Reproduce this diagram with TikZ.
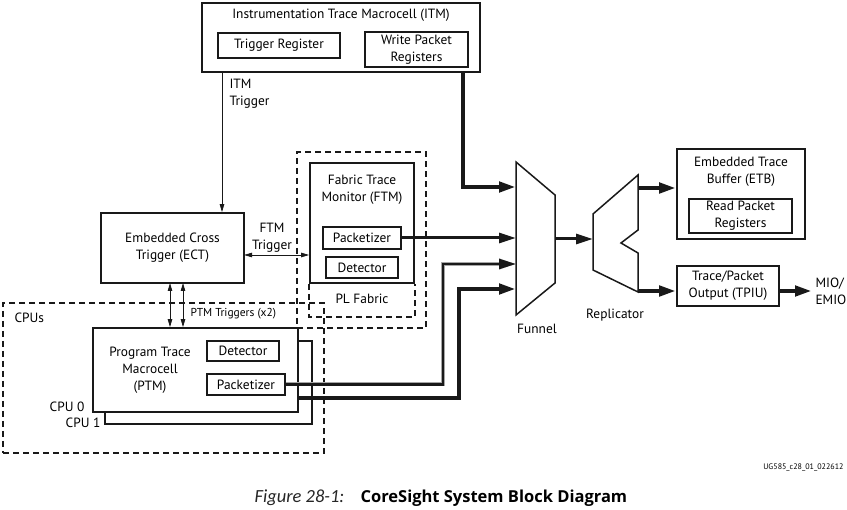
\documentclass[tikz,border=0pt]{standalone}
\usepackage{fontspec}
\setmainfont{PT Sans}
\newfontfamily\figfont{Carlito}
\newfontfamily\titlefont{Open Sans}
\usetikzlibrary{arrows.meta,positioning,calc}

\begin{document}
\begin{tikzpicture}
[
    x=1pt, y=-1pt,
    font=\fontsize{13.4}{17}\selectfont,
]

\tikzstyle{blk}=[rectangle, draw=black!90, line width=1.7pt, fill=white, inner sep=0pt, align=center]
\tikzstyle{sub}=[rectangle, draw=black!90, line width=1.6pt, inner sep=0pt, align=center]
\tikzstyle{zone}=[draw=black!90, line width=1.5pt, dash pattern=on 6pt off 4pt]
\tikzstyle{trig}=[draw=black!90, line width=0.8pt, -{Triangle[length=8pt,width=4.5pt]}]
\tikzstyle{dtrig}=[trig, {Triangle[length=8pt,width=4.5pt]}-{Triangle[length=8pt,width=4.5pt]}]
\tikzstyle{bus}=[draw=black!90, line width=4.4pt, -{Triangle[length=17pt,width=10pt]}]
\tikzstyle{midbus}=[bus, line width=3pt]
\tikzstyle{gbus}=[draw=black!90, line width=2.2pt, -{Triangle[length=17pt,width=10pt]},
    preaction={draw=black!35, line width=4pt}]
\tikzstyle{unit}=[draw=black!90, line width=1.5pt, line join=miter]

\useasboundingbox (0,0) rectangle (847,510);

% dashed zones
\node[zone, minimum width=129pt, minimum height=176pt] (plzone) at (361.5,240) {};
\node[zone, minimum width=321pt, minimum height=150pt] (cpus) at (163.5,378) {};
\node[anchor=west] (cpuslbl) at (11,318) {CPUs};

% CPUs
\node[blk, minimum width=207pt, minimum height=83pt] (cpu1) at (208.5,382.5) {};
\node[blk, minimum width=205pt, minimum height=84pt] (ptm) at (195.5,370) {};
\node[align=center] (ptmtxt) at (150,370) {Program Trace\\Macrocell\\(PTM)};
\node[sub, minimum width=72pt, minimum height=20pt] (ptmdet) at (243,351) {Detector};
\node[sub, minimum width=78pt, minimum height=21pt] (ptmpkt) at (246,384.5) {Packetizer};
\node[anchor=east] (cpu0lbl) at (88,407) {CPU 0};
\node[anchor=east] (cpu1lbl) at (104,423) {CPU 1};

% ECT and FTM
\node[blk, minimum width=143pt, minimum height=70pt] (ect) at (172.5,248) {Embedded Cross\\Trigger (ECT)};
\node[blk, minimum width=104pt, minimum height=120pt,
    label={[align=center,anchor=north,yshift=-9pt]north:Fabric Trace\\Monitor (FTM)}] (ftm) at (362,223) {};
\node[sub, minimum width=78pt, minimum height=22pt] (ftmpkt) at (362,238) {Packetizer};
\node[sub, minimum width=72pt, minimum height=21pt] (ftmdet) at (362,267.5) {Detector};
\draw[zone] (ftm.south west) -- ++(0,33) -| (ftm.south east);
\node (plfab) at (362,299) {PL Fabric};

% ITM
\node[blk, minimum width=278pt, minimum height=69pt,
    label={[anchor=north,yshift=-3pt]north:Instrumentation Trace Macrocell (ITM)}] (itm) at (341,37.5) {};
\node[sub, minimum width=122pt, minimum height=25pt] (trigreg) at (279,45.5) {Trigger Register};
\node[sub, minimum width=103pt, minimum height=35pt] (wrpkt) at (416.5,49.5) {Write Packet\\Registers};

% funnel and replicator
\draw[unit] (516,162) -- (555,195) -- (555,283) -- (516,315) -- cycle;
\node (funnel) at (537,329) {Funnel};
\draw[unit] (593,214) -- (638,175) -- (638,230) -- (621,243) -- (638,253) -- (638,292) -- (593,270) -- cycle;
\node (repl) at (615,315) {Replicator};
\coordinate (fin1) at (516,187);
\coordinate (fin2) at (516,238);
\coordinate (fin3) at (516,264);
\coordinate (fin4) at (516,289);
\coordinate (fout) at (555,239);
\coordinate (rin) at (593,239);
\coordinate (rout1) at (638,188);
\coordinate (rout2) at (638,291);

% ETB and TPIU
\node[blk, minimum width=128pt, minimum height=90pt,
    label={[align=center,anchor=north,yshift=-5pt]north:Embedded Trace\\Buffer (ETB)}] (etb) at (741,194) {};
\node[sub, minimum width=103pt, minimum height=34pt] (rdpkt) at (740.5,216) {Read Packet\\Registers};
\node[blk, minimum width=102pt, minimum height=40pt] (tpiu) at (728,286) {Trace/Packet\\Output (TPIU)};
\node[anchor=west, align=left] (mio) at (812,291) {MIO/\\EMIO};

% triggers
\coordinate (itmtrg) at (222,72);
\draw[trig] (itmtrg) -- (itmtrg |- ect.north);
\node[anchor=west, align=left] (itmlbl) at (226,94) {ITM\\Trigger};
\coordinate (ftmtrg) at (244,255);
\draw[dtrig] (ftmtrg) -- (ftmtrg -| ftm.west);
\node[align=center] (ftmlbl) at (272,238) {FTM\\Trigger};
\coordinate (pt1) at (170,283);
\coordinate (pt2) at (183,283);
\draw[dtrig] (pt1) -- (pt1 |- ptm.north);
\draw[dtrig] (pt2) -- (pt2 |- ptm.north);
\node[anchor=west, font=\fontsize{11.5}{12}\selectfont] (ptmlbl) at (187,314) {PTM Triggers (x2)};

% trace data
\coordinate (itmout) at (463,72);
\draw[bus] (itmout) |- (fin1);
\draw[midbus] (ftmpkt.east) -- (fin2);
\draw[gbus] (ptmpkt.east) -- ++(157,0) |- (fin3);
\coordinate (cpuout) at (298,398);
\draw[bus] (cpuout) -- ++(161,0) |- (fin4);
\draw[midbus] (fout) -- (rin);
\draw[bus] (rout1) -- (rout1 -| etb.west);
\draw[bus] (rout2) -- (rout2 -| tpiu.west);
\draw[bus] (tpiu.east |- rout2) -- (mio.west |- rout2);

% caption
\node[anchor=east, font=\fontsize{8}{9}\selectfont] (ugnum) at (847,467) {UG585\_c28\_01\_022612};
\node[anchor=west, font=\figfont\fontsize{18.5}{20}\selectfont\itshape, text=black!85] (figno) at (251,498) {Figure 28-1:};
\node[anchor=west, font=\titlefont\fontsize{16.5}{18}\selectfont\bfseries] (figtitle) at (357,498) {CoreSight System Block Diagram};
\end{tikzpicture}
\end{document}
